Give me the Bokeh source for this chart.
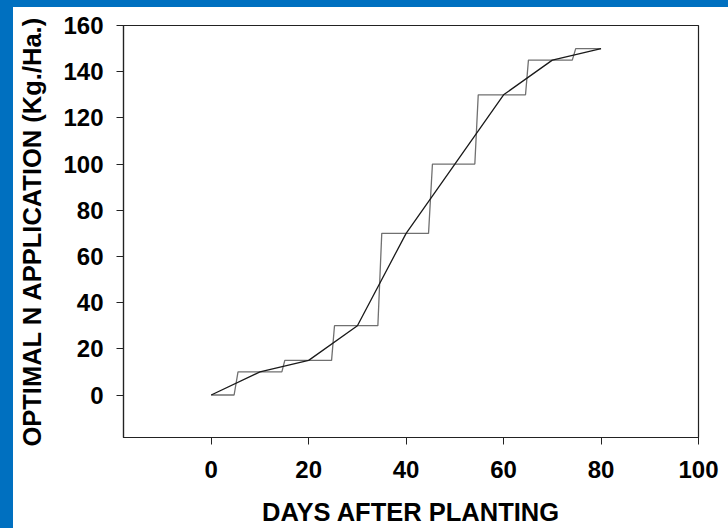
from bokeh.plotting import figure
from bokeh.models import Range1d, FixedTicker, InlineStyleSheet
from bokeh.embed import file_html
from bokeh.resources import INLINE

# Smooth (interpolated) optimal N curve
smooth_days = [0, 10, 20, 30, 40, 50, 60, 70, 80]
smooth_n = [0, 10, 15, 30, 70, 100, 130, 145, 150]

# Staircase (applied) N schedule
step_days = [0, 4.7, 5.5, 14.5, 15.1, 24.7, 25.3, 34.2, 35.0,
             44.6, 45.4, 54.1, 54.8, 64.5, 65.1, 74.1, 74.8, 80]
step_n = [0, 0, 10, 10, 15, 15, 30, 30, 70,
          70, 100, 100, 130, 130, 145, 145, 150, 150]

x_ticks = [0, 20, 40, 60, 80, 100]
y_ticks = [0, 20, 40, 60, 80, 100, 120, 140, 160]

x_title = "DAYS AFTER PLANTING"
y_title = "OPTIMAL N APPLICATION (Kg./Ha.)"

BLUE = "#0070c0"
FONT = "Liberation Sans"

p = figure(
    width=728, height=528,
    output_backend="svg", toolbar_location=None,
    x_range=Range1d(-18, 100), y_range=Range1d(-18.4, 160),
    min_border_left=123, min_border_right=30,
    min_border_top=25, min_border_bottom=90,
)
p.stylesheets = [InlineStyleSheet(css=(
    ":host { background-color: #ffffff; "
    f"background-image: linear-gradient({BLUE},{BLUE}), linear-gradient({BLUE},{BLUE}); "
    "background-size: 13px 100%, 100% 7px; "
    "background-position: 0 0, 0 0; "
    "background-repeat: no-repeat, no-repeat; }"
))]
p.border_fill_alpha = 0
p.background_fill_color = "white"
p.outline_line_color = "#222222"
p.outline_line_width = 1.2
p.grid.visible = False

p.line(step_days, step_n, line_color="#707070", line_width=1.3)
p.line(smooth_days, smooth_n, line_color="#1a1a1a", line_width=1.3)

for ax, ticks in ((p.xaxis[0], x_ticks), (p.yaxis[0], y_ticks)):
    ax.ticker = FixedTicker(ticks=ticks)
    ax.minor_tick_line_color = None
    ax.major_tick_in = 0
    ax.major_tick_out = 7
    ax.major_tick_line_color = "#222222"
    ax.axis_line_color = "#222222"
    ax.axis_line_width = 1.2
    ax.major_label_text_font = FONT
    ax.major_label_text_font_style = "bold"
    ax.major_label_text_font_size = "24px"
    ax.major_label_text_color = "black"
    ax.major_label_standoff = 13
    ax.axis_label_text_font = FONT
    ax.axis_label_text_font_style = "bold"
    ax.axis_label_text_font_size = "25.5px"
    ax.axis_label_text_color = "black"

p.xaxis.major_label_standoff = 16
p.xaxis.axis_label = x_title
p.yaxis.axis_label = y_title
p.xaxis.axis_label_standoff = 17
p.yaxis.axis_label_standoff = 14

open("out.html", "w").write(file_html(p, INLINE))
